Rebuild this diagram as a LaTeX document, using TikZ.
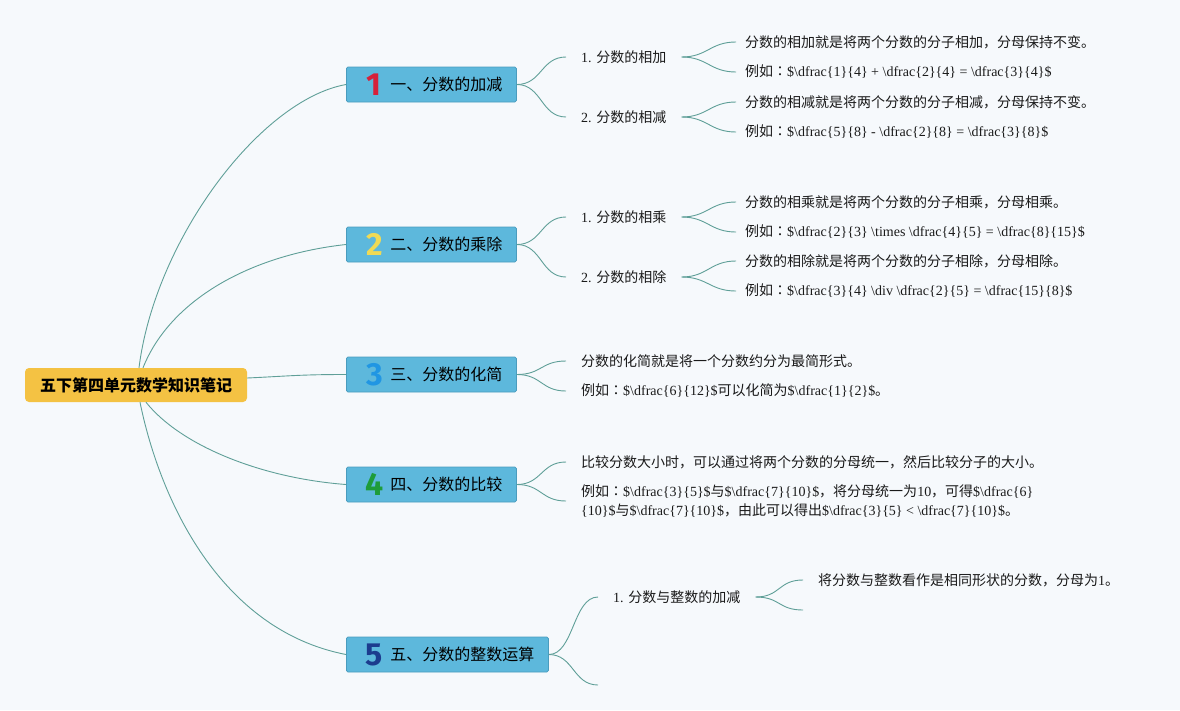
\documentclass[tikz,border=0pt]{standalone}
\usepackage{fontspec}
\setmainfont{Liberation Serif}
\newfontfamily\cjk{Noto Sans CJK SC}
\newfontfamily\cjktc{Noto Sans CJK TC}
\newfontfamily\numfont{Fira Sans}
\newcommand\C[1]{{\cjk #1}}
\newcommand\LI{{\cjk 例如}{\cjktc ：}}
\newcommand\BS{\textbackslash}
\newcommand\df[2]{\BS dfrac\{#1\}\{#2\}}
\newcommand\btext[4]{\makebox[#1][l]{\hspace*{16pt}\makebox[24pt]{\raisebox{-5pt}[0pt][0pt]{\numfont\bfseries\fontsize{32}{32}\selectfont\color{#2}#3}}\hspace*{4pt}{\cjk\fontsize{16}{19}\selectfont #4}}}
\definecolor{bgcol}{HTML}{F6F9FC}
\definecolor{boxfill}{HTML}{5DB8DC}
\definecolor{boxline}{HTML}{4A9CBE}
\definecolor{rootfill}{HTML}{F4C243}
\definecolor{conncol}{HTML}{5F9F98}
\definecolor{leafcol}{HTML}{1A1A1A}
\definecolor{nA}{HTML}{D6213B}
\definecolor{nB}{HTML}{F0DA55}
\definecolor{nC}{HTML}{2196E3}
\definecolor{nD}{HTML}{1E9C3A}
\definecolor{nE}{HTML}{1C3C8E}
\begin{document}
\begin{tikzpicture}[x=1pt,y=-1pt,
  conn/.style={draw=conncol,line width=0.9pt},
  rootbox/.style={fill=rootfill,rounded corners=4pt,minimum width=222pt,minimum height=34pt,inner sep=0pt,font=\cjk\bfseries\fontsize{16}{19}\selectfont},
  branchbox/.style={draw=boxline,fill=boxfill,line width=0.8pt,rounded corners=1.5pt,inner sep=0pt,minimum height=35pt,anchor=west},
  sublabel/.style={inner xsep=15pt,inner ysep=2pt,anchor=west,font=\fontsize{14}{17}\selectfont,text=leafcol},
  leafa/.style={inner xsep=9pt,inner ysep=2pt,anchor=west,font=\fontsize{14}{19}\selectfont,text=leafcol},
  leafb/.style={leafa,inner xsep=15pt},
]
\fill[bgcol] (0,0) rectangle (1180,710);
\useasboundingbox (0,0) rectangle (1180,710);

% root and branches
\node[rootbox] (root) at (136,385) {五下第四单元数学知识笔记};
\node[branchbox] (b1) at (346,84.5) {\btext{170pt}{nA}{1}{一、分数的加减}};
\node[branchbox] (b2) at (346,244.5) {\btext{170pt}{nB}{2}{二、分数的乘除}};
\node[branchbox] (b3) at (346,374.5) {\btext{170pt}{nC}{3}{三、分数的化简}};
\node[branchbox] (b4) at (346,484.5) {\btext{170pt}{nD}{4}{四、分数的比较}};
\node[branchbox] (b5) at (346,654.5) {\btext{202pt}{nE}{5}{五、分数的整数运算}};

% sub labels
\node[sublabel] (l11) at (566,57) {1. \C{分数的相加}};
\node[sublabel] (l12) at (566,117) {2. \C{分数的相减}};
\node[sublabel] (l21) at (566,217) {1. \C{分数的相乘}};
\node[sublabel] (l22) at (566,277) {2. \C{分数的相除}};
\node[sublabel] (l51) at (598,597) {1. \C{分数与整数的加减}};

% leaves
\node[leafa] (t111) at (736,42) {\C{分数的相加就是将两个分数的分子相加，分母保持不变。}};
\node[leafa] (t112) at (736,72) {\LI\$\df{1}{4} + \df{2}{4} = \df{3}{4}\$};
\node[leafa] (t121) at (736,102) {\C{分数的相减就是将两个分数的分子相减，分母保持不变。}};
\node[leafa] (t122) at (736,132) {\LI\$\df{5}{8} - \df{2}{8} = \df{3}{8}\$};
\node[leafa] (t211) at (736,202) {\C{分数的相乘就是将两个分数的分子相乘，分母相乘。}};
\node[leafa] (t212) at (736,232) {\LI\$\df{2}{3} \BS times \df{4}{5} = \df{8}{15}\$};
\node[leafa] (t221) at (736,261) {\C{分数的相除就是将两个分数的分子相除，分母相除。}};
\node[leafa] (t222) at (736,291) {\LI\$\df{3}{4} \BS div \df{2}{5} = \df{15}{8}\$};
\node[leafb] (t31) at (566,361) {\C{分数的化简就是将一个分数约分为最简形式。}};
\node[leafb] (t32) at (566,391) {\LI\$\df{6}{12}\$\C{可以化简为}\$\df{1}{2}\$\C{。}};
\node[leafb] (t41) at (566,462) {\C{比较分数大小时，可以通过将两个分数的分母统一，然后比较分子的大小。}};
\node[leafb,align=left] (t42) at (566,501) {\LI\$\df{3}{5}\$\C{与}\$\df{7}{10}\$\C{，将分母统一为}10\C{，可得}\$\BS dfrac\{6\}\\\{10\}\$\C{与}\$\df{7}{10}\$\C{，由此可以得出}\$\df{3}{5} < \df{7}{10}\$\C{。}};
\node[leafb] (t51) at (803,580) {\C{将分数与整数看作是相同形状的分数，分母为}1\C{。}};
\coordinate (e5) at (598,685);
\coordinate (e51) at (803,610);

% root connectors
\draw[conn] ([xshift=3pt]root.north) .. controls (155,240) and (260,100) .. (b1.west);
\draw[conn] ([xshift=7pt]root.north) .. controls (170,300) and (250,255) .. (b2.west);
\draw[conn] ([yshift=7pt]root.east) .. controls (290,376) and (300,374.5) .. (b3.west);
\draw[conn] ([xshift=10pt]root.south) .. controls (180,445) and (260,478) .. (b4.west);
\draw[conn] ([xshift=4pt]root.south) .. controls (160,500) and (220,630) .. (b5.west);

% branch to sub connectors
\draw[conn] (b1.east) .. controls +(25,0) and +(-25,0) .. (l11.west);
\draw[conn] (b1.east) .. controls +(25,0) and +(-25,0) .. (l12.west);
\draw[conn] (b2.east) .. controls +(25,0) and +(-25,0) .. (l21.west);
\draw[conn] (b2.east) .. controls +(25,0) and +(-25,0) .. (l22.west);
\draw[conn] (b3.east) .. controls +(25,0) and +(-25,0) .. (t31.west);
\draw[conn] (b3.east) .. controls +(25,0) and +(-25,0) .. (t32.west);
\draw[conn] (b4.east) .. controls +(25,0) and +(-25,0) .. (t41.west);
\draw[conn] (b4.east) .. controls +(25,0) and +(-25,0) .. (t42.west);
\draw[conn] (b5.east) .. controls +(25,0) and +(-25,0) .. (l51.west);
\draw[conn] (b5.east) .. controls +(25,0) and +(-25,0) .. (e5);

% sub to leaf connectors
\draw[conn] (l11.east) .. controls +(26,0) and +(-26,0) .. (t111.west);
\draw[conn] (l11.east) .. controls +(26,0) and +(-26,0) .. (t112.west);
\draw[conn] (l12.east) .. controls +(26,0) and +(-26,0) .. (t121.west);
\draw[conn] (l12.east) .. controls +(26,0) and +(-26,0) .. (t122.west);
\draw[conn] (l21.east) .. controls +(26,0) and +(-26,0) .. (t211.west);
\draw[conn] (l21.east) .. controls +(26,0) and +(-26,0) .. (t212.west);
\draw[conn] (l22.east) .. controls +(26,0) and +(-26,0) .. (t221.west);
\draw[conn] (l22.east) .. controls +(26,0) and +(-26,0) .. (t222.west);
\draw[conn] (l51.east) .. controls +(25,0) and +(-25,0) .. (t51.west);
\draw[conn] (l51.east) .. controls +(25,0) and +(-25,0) .. (e51);
\end{tikzpicture}
\end{document}
